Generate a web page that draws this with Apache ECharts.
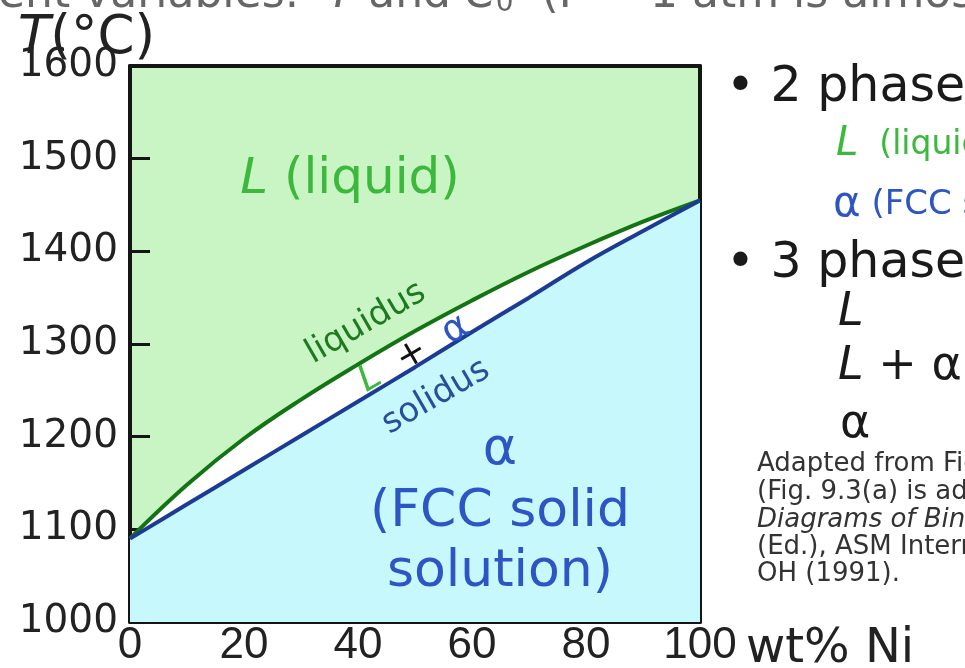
<!DOCTYPE html>
<html><head><meta charset="utf-8">
<script src="https://cdn.jsdelivr.net/npm/echarts@6/dist/echarts.min.js"></script>
<style>html,body{margin:0;padding:0;background:#fff;}#c{width:965px;height:668px;}</style>
</head><body><div id="c"></div>
<script>
// composition (wt% Ni)
const compLiq = [0, 10, 20, 30, 40, 50, 60, 70, 80, 90, 100];
const liquidusT = [1090, 1148, 1198, 1240, 1278, 1314, 1347, 1378, 1406, 1432, 1455];
const compSol = [0, 10, 20, 30, 40, 50, 60, 70, 80, 90, 100];
const solidusT = [1090, 1127, 1164, 1201, 1238, 1275, 1313, 1350, 1388, 1422, 1455];
const xTicks = [0, 20, 40, 60, 80, 100];
const yTicks = [1000, 1100, 1200, 1300, 1400, 1500, 1600];

const F = 'DejaVu Sans';
const GREEN_TXT = '#3cb93c', BLUE_TXT = '#2e55c4';
const chart = echarts.init(document.getElementById('c'), null, {renderer: 'canvas'});

function txt(x, y, text, size, color, opts) {
  opts = opts || {};
  return {type: 'text', x: x, y: y, rotation: opts.rot || 0, z: 100,
    style: Object.assign({text: text, fontFamily: F, fontSize: size, fill: color,
      align: opts.align || 'left', verticalAlign: opts.va || 'middle'}, opts.style || {})};
}
const rot = 30 * Math.PI / 180;

const option = {
  animation: false,
  grid: {left: 130, right: 265, top: 66, bottom: 43, show: true,
    backgroundColor: '#c8f5c3', borderWidth: 0},
  xAxis: [{type: 'value', min: xTicks[0], max: xTicks[xTicks.length-1], interval: 20,
      axisLine: {show: true, onZero: false, lineStyle: {color: '#151515', width: 4}},
      axisTick: {show: true, inside: true, length: 24, lineStyle: {color: '#151515', width: 3}},
      axisLabel: {fontFamily: 'Liberation Sans', fontSize: 44, color: '#222', margin: 2,
        formatter: v => String(v)},
      splitLine: {show: false}},
    {type: 'value', position: 'top', min: 0, max: 100,
      axisLine: {show: true, onZero: false, lineStyle: {color: '#151515', width: 4}},
      axisTick: {show: false}, axisLabel: {show: false}, splitLine: {show: false}}],
  yAxis: [{type: 'value', min: yTicks[0], max: yTicks[yTicks.length-1], interval: 100,
      axisLine: {show: true, onZero: false, lineStyle: {color: '#151515', width: 4}},
      axisTick: {show: true, inside: true, length: 20, lineStyle: {color: '#151515', width: 3}},
      axisLabel: {fontFamily: F, fontSize: 39, color: '#222', margin: 12,
        formatter: v => String(v)},
      splitLine: {show: false}},
    {type: 'value', position: 'right', min: 1000, max: 1600,
      axisLine: {show: true, onZero: false, lineStyle: {color: '#151515', width: 4}},
      axisTick: {show: false}, axisLabel: {show: false}, splitLine: {show: false}}],
  series: [
    {type: 'line', name: 'liquidus', smooth: 0.4, symbol: 'none', z: 2,
      data: compLiq.map((c, i) => [c, liquidusT[i]]),
      lineStyle: {color: '#147314', width: 4},
      areaStyle: {color: '#ffffff', opacity: 1, origin: 'start'}},
    {type: 'line', name: 'solidus', smooth: 0.4, symbol: 'none', z: 3,
      data: compSol.map((c, i) => [c, solidusT[i]]),
      lineStyle: {color: '#1c3b94', width: 4},
      areaStyle: {color: '#c6f8fc', opacity: 1, origin: 'start'}}
  ],
  graphic: [
    // cut-off header line
    txt(-208, 18, '{n|independent variables:  }{i|T}{n| and }{i|C}{s|0}{n|  (P = 1 atm is almost always used)}', 44, '#666',
      {va: 'bottom', style: {rich: {n: {fontSize: 44, fontFamily: F, fill: '#666'}, i: {fontSize: 44, fontFamily: F, fontStyle: 'italic', fill: '#666'}, s: {fontSize: 28, fontFamily: F, fill: '#666', verticalAlign: 'bottom'}}}}),
    // axis titles
    txt(18, 39, '{i|T}{n|(°C)}', 53, '#222', {style: {rich: {i: {fontSize: 53, fontFamily: F, fontStyle: 'italic', fill: '#222'}, n: {fontSize: 53, fontFamily: F, fill: '#222'}}}}),
    txt(746, 650, 'wt% Ni', 48, '#222'),
    // region labels
    txt(350, 180, '{i|L}{n| (liquid)}', 50, GREEN_TXT, {align: 'center', style: {rich: {i: {fontSize: 50, fontFamily: F, fontStyle: 'italic', fill: GREEN_TXT}, n: {fontSize: 50, fontFamily: F, fill: GREEN_TXT}}}}),
    txt(500, 450, 'α', 52, BLUE_TXT, {align: 'center'}),
    txt(500, 512, '(FCC solid', 52, BLUE_TXT, {align: 'center'}),
    txt(500, 572, 'solution)', 52, BLUE_TXT, {align: 'center'}),
    txt(366, 323, 'liquidus', 34, '#1f7a1f', {align: 'center', rot: rot}),
    txt(436, 397, 'solidus', 34, '#274f9a', {align: 'center', rot: rot}),
    txt(414, 354, '{g|L}{k|  +  }{b|α}', 36, '#111', {align: 'center', rot: rot,
      style: {rich: {g: {fontSize: 36, fontFamily: F, fontStyle: 'italic', fill: GREEN_TXT}, k: {fontSize: 36, fontFamily: F, fill: '#111'}, b: {fontSize: 38, fontFamily: F, fill: BLUE_TXT}}}}),
    // right-hand notes
    txt(726, 88, '• 2 phases:', 49, '#1a1a1a'),
    txt(836, 145, '{i|L}{n|  (liquid)}', 36, GREEN_TXT, {style: {rich: {i: {fontSize: 40, fontFamily: F, fontStyle: 'italic', fill: GREEN_TXT}, n: {fontSize: 33, fontFamily: F, fill: GREEN_TXT}}}}),
    txt(833, 205, '{i|α}{n| (FCC solid solution)}', 36, BLUE_TXT, {style: {rich: {i: {fontSize: 42, fontFamily: F, fill: BLUE_TXT}, n: {fontSize: 34, fontFamily: F, fill: BLUE_TXT}}}}),
    txt(726, 264, '• 3 phase fields:', 49, '#1a1a1a'),
    txt(838, 313, 'L', 46, '#1a1a1a', {style: {fontStyle: 'italic'}}),
    txt(838, 367, '{i|L}{n| + α}', 46, '#1a1a1a', {style: {rich: {i: {fontSize: 46, fontFamily: F, fontStyle: 'italic', fill: '#1a1a1a'}, n: {fontSize: 46, fontFamily: F, fill: '#1a1a1a'}}}}),
    txt(840, 425, 'α', 46, '#1a1a1a'),
    txt(757, 464, 'Adapted from Fig. 9.3(a), Callister 7e.', 26, '#333'),
    txt(757, 492, '(Fig. 9.3(a) is adapted from Phase', 26, '#333'),
    txt(757, 520, 'Diagrams of Binary Nickel Alloys, P. Nash', 26, '#333', {style: {fontStyle: 'italic'}}),
    txt(757, 547, '(Ed.), ASM International, Materials Park,', 26, '#333'),
    txt(757, 574, 'OH (1991).', 26, '#333')
  ]
};
chart.setOption(option);
</script></body></html>
